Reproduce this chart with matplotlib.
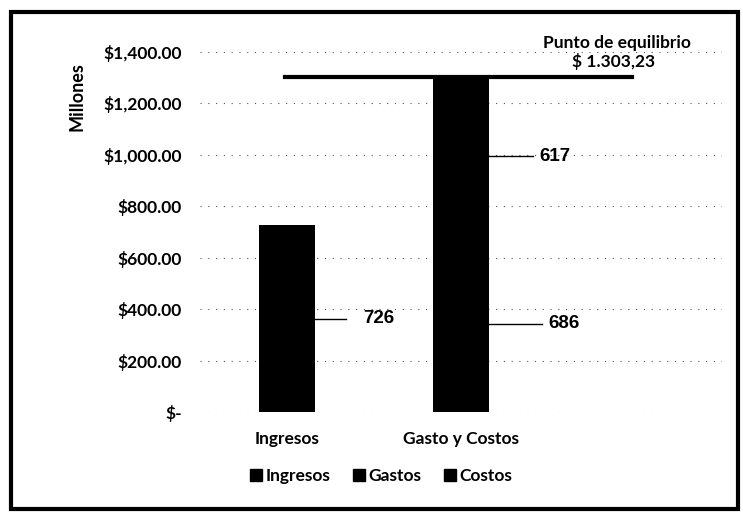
import matplotlib
matplotlib.use("Agg")
import matplotlib.pyplot as plt
from matplotlib.patches import Patch, Rectangle
from matplotlib.ticker import FuncFormatter

plt.rcParams['font.family'] = ['Lato', 'DejaVu Sans']

categories = ["Ingresos", "Gasto y Costos"]
ingresos = [726, 0]
gastos = [0, 686]
costos = [0, 617]
equilibrio = 1303.23
yticks = [0, 200, 400, 600, 800, 1000, 1200, 1400]

fig = plt.figure(figsize=(7.43, 5.12), dpi=100)
W, H = 743, 512
ax = fig.add_axes([200 / W, 1 - 412 / H, (722 - 200) / W, (412 - 52) / H])

x = [0, 1]
bw = 0.32
ax.bar(x, ingresos, width=bw, color="black", zorder=3)
ax.bar(x, gastos, width=bw, color="black", zorder=3)
ax.bar(x, costos, width=bw, bottom=gastos, color="black", zorder=3)

ax.set_xlim(-0.5, 2.5)
ax.set_ylim(0, 1400)
ax.set_yticks(yticks)
ax.yaxis.set_major_formatter(FuncFormatter(lambda v, p: "$-" if v == 0 else f"${v:,.2f}"))
ax.set_xticks(x)
ax.set_xticklabels(categories)
for s in ax.spines.values():
    s.set_visible(False)
ax.tick_params(length=0, labelsize=12.5)
ax.tick_params(axis='y', pad=13)
ax.tick_params(axis='x', pad=14)
for lab in ax.get_yticklabels() + ax.get_xticklabels():
    lab.set_fontweight("bold")
ax.yaxis.grid(True, color="#555555", linestyle=(0, (1, 6)), linewidth=0.8, zorder=0)

ax.set_ylabel("Millones", fontsize=13, fontweight="bold")
ax.yaxis.set_label_coords(-0.22, 0.875)

# data labels with leader lines
def label(xc, yv, val, xend, xtext):
    ax.plot([xc + bw / 2, xend], [yv, yv], color="black", lw=1.0, zorder=4)
    ax.text(xtext, yv, str(val), fontsize=13.5, fontweight="bold",
            family=["Liberation Sans", "DejaVu Sans"], va="center", ha="left")

label(0, ingresos[0] / 2, ingresos[0], 0.34, 0.437)
label(1, gastos[1] / 2, gastos[1], 1.466, 1.50)
label(1, gastos[1] + costos[1] / 2, costos[1], 1.414, 1.45)

# break-even line
ax.plot([-0.01, 1.98], [equilibrio, equilibrio], color="black", lw=3, zorder=5, clip_on=False)
ax.text(1.897, 1405, "Punto de equilibrio", fontsize=12.5, fontweight="bold", ha="center", va="bottom")
ax.text(1.879, 1330, "$ 1.303,23", fontsize=12.5, fontweight="bold", ha="center", va="bottom")

handles = [Patch(color="black", label="Ingresos"), Patch(color="black", label="Gastos"),
           Patch(color="black", label="Costos")]
leg = fig.legend(handles=handles, loc="center", bbox_to_anchor=(381 / W, 1 - 476 / H), ncol=3,
                 frameon=False, handlelength=0.7, handleheight=0.7, handletextpad=0.2,
                 columnspacing=1.3, prop={"size": 12.5, "weight": "bold"})

fig.add_artist(Rectangle((11 / W, 3 / H), (738 - 11) / W, (500 - 3) / H, transform=fig.transFigure,
                         fill=False, edgecolor="black", lw=3))

fig.savefig("out.png", dpi=100)
